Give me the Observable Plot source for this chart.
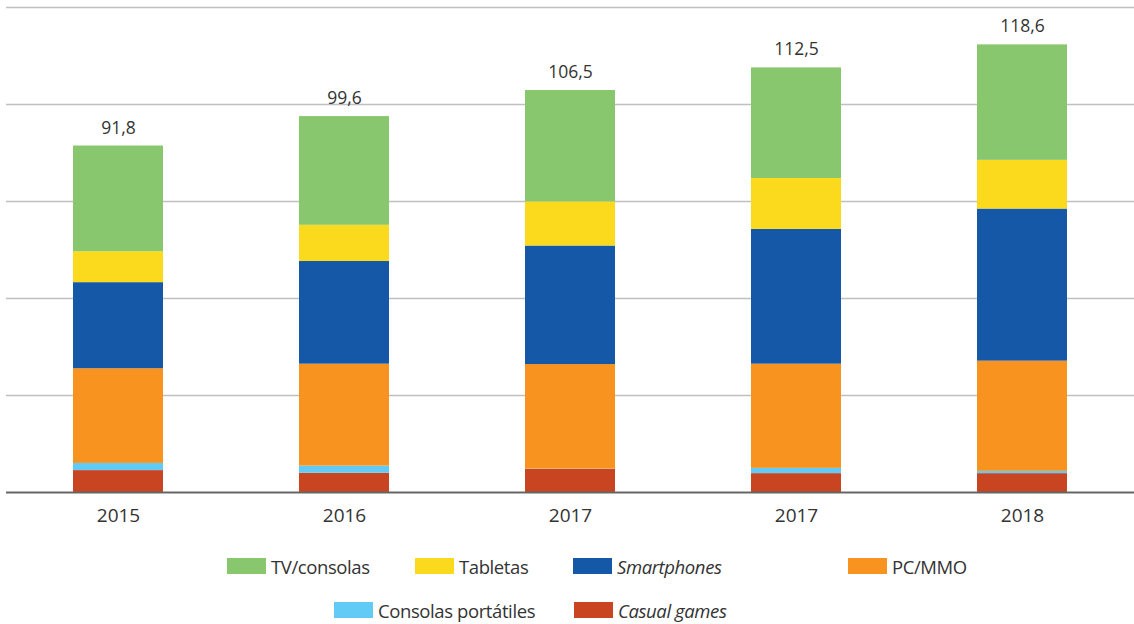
<!DOCTYPE html>
<html><head><meta charset="utf-8">
<script src="https://cdn.jsdelivr.net/npm/d3@7"></script>
<script src="https://cdn.jsdelivr.net/npm/@observablehq/plot@0.6"></script>
<style>
body{margin:0;background:#fff;font-family:"Open Sans",sans-serif;}
#wrap{position:relative;width:1134px;height:624px;overflow:hidden}
#chart{position:absolute;left:0;top:0}
.leg{position:absolute;display:flex;align-items:center;font-size:18.5px;letter-spacing:-0.4px;color:#333;white-space:nowrap;height:16px}
.sw{width:39px;height:16px;margin-right:5px;flex:none}
</style></head><body><div id="wrap"><div id="chart"></div></div>
<script>
// Categories (x) — note the repeated "2017" as in the source
const years = ["2015","2016","2017","2017","2018"];
const totals = [91.8, 99.6, 106.5, 112.5, 118.6];
// Series values (bottom to top of stack)
const casualGames = [5.8, 5.1, 6.1, 5.0, 5.0];
const consolasPortatiles = [1.9, 1.9, 0.1, 1.4, 0.6];
const pcMmo = [25.1, 27.0, 27.7, 27.6, 29.2];
const smartphones = [22.8, 27.2, 31.4, 35.7, 40.3];
const tabletas = [8.2, 9.6, 11.7, 13.5, 12.9];
const tvConsolas = [28.0, 28.8, 29.5, 29.3, 30.6];
const gridValues = [0, 25.7, 51.4, 77.1, 102.8, 128.5];

const seriesNames = ["Casual games","Consolas portátiles","PC/MMO","Smartphones","Tabletas","TV/consolas"];
const seriesValues = [casualGames, consolasPortatiles, pcMmo, smartphones, tabletas, tvConsolas];
const seriesColors = ["#c94420","#62cbf5","#f7931e","#1558a7","#fbda1d","#88c76e"];

const data = [];
seriesNames.forEach((s, k) => seriesValues[k].forEach((v, i) => data.push({i, series: s, value: v})));
const totalData = totals.map((t, i) => ({i, t}));
const fmt = v => v.toFixed(1).replace(".", ",");

const plot = Plot.plot({
  width: 1134, height: 540,
  marginLeft: 6, marginRight: 0, marginTop: 7, marginBottom: 48,
  style: {fontFamily: "'Open Sans', sans-serif", fontSize: "19px", color: "#333", background: "#fff"},
  x: {type: "band", domain: d3.range(years.length), paddingInner: 0.6, paddingOuter: 0.29,
      tickFormat: i => years[i], tickSize: 0, tickPadding: 16, label: null},
  y: {domain: [0, gridValues[gridValues.length - 1]], axis: null},
  color: {domain: seriesNames, range: seriesColors},
  marks: [
    Plot.ruleY(gridValues.slice(1), {stroke: "#c0c0c0", strokeWidth: 1.5}),
    Plot.barY(data, {x: "i", y: "value", z: "series", fill: "series"}),
    Plot.ruleY([0], {stroke: "#666", strokeWidth: 2}),
    Plot.text(totalData, {x: "i", y: "t", text: d => fmt(d.t), dy: -18, lineAnchor: "middle", fill: "#333", fontSize: 17.5})
  ]
});
document.getElementById("chart").appendChild(plot);

// Legend
const legendItems = [
  {name: "TV/consolas", x: 227, y: 558, italic: false},
  {name: "Tabletas", x: 415, y: 558, italic: false},
  {name: "Smartphones", x: 573, y: 558, italic: true},
  {name: "PC/MMO", x: 848, y: 558, italic: false},
  {name: "Consolas portátiles", x: 334, y: 602, italic: false},
  {name: "Casual games", x: 574, y: 602, italic: true}
];
const wrap = document.getElementById("wrap");
legendItems.forEach(it => {
  const d = document.createElement("div");
  d.className = "leg";
  d.style.left = it.x + "px"; d.style.top = it.y + "px";
  const sw = document.createElement("div");
  sw.className = "sw";
  sw.style.background = seriesColors[seriesNames.indexOf(it.name)];
  const t = document.createElement("span");
  t.textContent = it.name;
  if (it.italic) t.style.fontStyle = "italic";
  d.appendChild(sw); d.appendChild(t);
  wrap.appendChild(d);
});
</script></body></html>
